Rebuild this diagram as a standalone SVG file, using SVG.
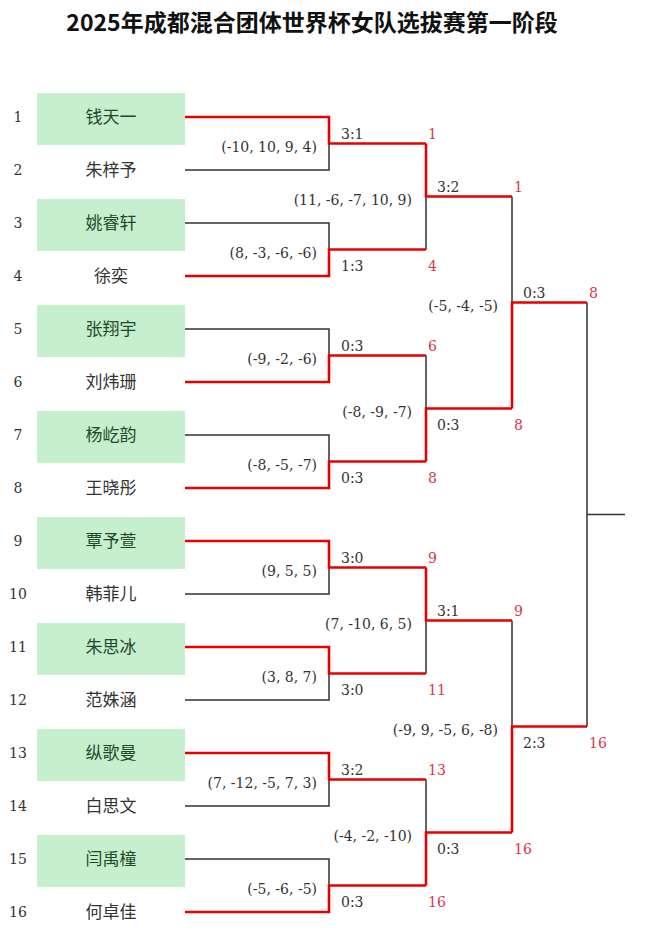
<svg xmlns="http://www.w3.org/2000/svg" width="650" height="945" viewBox="0 0 650 945">
<style>
.bg{fill:#ffffff}
.box{fill:#c6efce}
.title{font-family:"Noto Sans CJK SC","Noto Sans",sans-serif;font-weight:bold;font-size:23px;fill:#111;text-anchor:middle}
.num{font-family:"DejaVu Serif","Liberation Serif",serif;font-size:14px;fill:#333;text-anchor:middle}
.name{font-family:"Noto Sans CJK SC",sans-serif;font-size:17px;fill:#333;text-anchor:middle}
.gname{font-family:"Noto Sans CJK SC",sans-serif;font-size:17px;fill:#1f4a2a;text-anchor:middle}
.sc{font-family:"DejaVu Serif","Liberation Serif",serif;font-size:14px;fill:#333;text-anchor:end}
.res{font-family:"DejaVu Serif","Liberation Serif",serif;font-size:14px;fill:#333}
.win{font-family:"DejaVu Serif","Liberation Serif",serif;font-size:14px;fill:#d6374a}
.lb{fill:none;stroke:#333;stroke-width:1.5}
.lr{fill:none;stroke:#e60000;stroke-width:2.6;stroke-linejoin:miter}
</style>
<rect class="bg" x="0" y="0" width="650" height="945"/>
<text class="title" x="312" y="31">2025年成都混合团体世界杯女队选拔赛第一阶段</text>

<g id="p1"><rect class="box" x="37" y="93" width="148" height="52"/><text class="num" x="18" y="122">1</text><text class="gname" x="111" y="123">钱天一</text></g>
<g id="p2"><text class="num" x="18" y="175">2</text><text class="name" x="111" y="176">朱梓予</text></g>
<g id="p3"><rect class="box" x="37" y="199" width="148" height="52"/><text class="num" x="18" y="228">3</text><text class="gname" x="111" y="229">姚睿轩</text></g>
<g id="p4"><text class="num" x="18" y="281">4</text><text class="name" x="111" y="282">徐奕</text></g>
<g id="p5"><rect class="box" x="37" y="305" width="148" height="52"/><text class="num" x="18" y="334">5</text><text class="gname" x="111" y="335">张翔宇</text></g>
<g id="p6"><text class="num" x="18" y="387">6</text><text class="name" x="111" y="388">刘炜珊</text></g>
<g id="p7"><rect class="box" x="37" y="411" width="148" height="52"/><text class="num" x="18" y="440">7</text><text class="gname" x="111" y="441">杨屹韵</text></g>
<g id="p8"><text class="num" x="18" y="493">8</text><text class="name" x="111" y="494">王晓彤</text></g>
<g id="p9"><rect class="box" x="37" y="517" width="148" height="52"/><text class="num" x="18" y="546">9</text><text class="gname" x="111" y="547">覃予萱</text></g>
<g id="p10"><text class="num" x="18" y="599">10</text><text class="name" x="111" y="600">韩菲儿</text></g>
<g id="p11"><rect class="box" x="37" y="623" width="148" height="52"/><text class="num" x="18" y="652">11</text><text class="gname" x="111" y="653">朱思冰</text></g>
<g id="p12"><text class="num" x="18" y="705">12</text><text class="name" x="111" y="706">范姝涵</text></g>
<g id="p13"><rect class="box" x="37" y="729" width="148" height="52"/><text class="num" x="18" y="758">13</text><text class="gname" x="111" y="759">纵歌曼</text></g>
<g id="p14"><text class="num" x="18" y="811">14</text><text class="name" x="111" y="812">白思文</text></g>
<g id="p15"><rect class="box" x="37" y="835" width="148" height="52"/><text class="num" x="18" y="864">15</text><text class="gname" x="111" y="865">闫禹橦</text></g>
<g id="p16"><text class="num" x="18" y="917">16</text><text class="name" x="111" y="918">何卓佳</text></g>

<g id="connectors">
<path class="lb" d="M185,170H329V143.5 M185,223H329V249.5 M185,329H329V355.5 M185,435H329V461.5 M185,594H329V567.5 M185,700H329V673.5 M185,806H329V779.5 M185,859H329V885.5"/>
<path class="lb" d="M426,196.5V249.5 M426,355.5V408.5 M426,673.5V620.5 M426,779.5V832.5"/>
<path class="lb" d="M512,196.5V302.5 M512,620.5V726.5 M587,302.5V726.5 M587,514.5H625"/>
<path class="lr" d="M185,117H329V143.5H426 M185,276H329V249.5H426 M185,382H329V355.5H426 M185,488H329V461.5H426 M185,541H329V567.5H426 M185,647H329V673.5H426 M185,753H329V779.5H426 M185,912H329V885.5H426"/>
<path class="lr" d="M426,143.5V196.5H512 M426,461.5V408.5H512 M426,567.5V620.5H512 M426,885.5V832.5H512"/>
<path class="lr" d="M512,408.5V302.5H587 M512,832.5V726.5H587"/>
</g>

<g id="labels-r1">
<text class="sc" x="317" y="151.5">(-10, 10, 9, 4)</text>
<text class="sc" x="317" y="257.5">(8, -3, -6, -6)</text>
<text class="sc" x="317" y="363.5">(-9, -2, -6)</text>
<text class="sc" x="317" y="469.5">(-8, -5, -7)</text>
<text class="sc" x="317" y="575.5">(9, 5, 5)</text>
<text class="sc" x="317" y="681.5">(3, 8, 7)</text>
<text class="sc" x="317" y="787.5">(7, -12, -5, 7, 3)</text>
<text class="sc" x="317" y="893.5">(-5, -6, -5)</text>
<text class="res" x="341" y="138.5">3:1</text><text class="win" x="428" y="138.5">1</text>
<text class="res" x="341" y="270.5">1:3</text><text class="win" x="428" y="270.5">4</text>
<text class="res" x="341" y="350.5">0:3</text><text class="win" x="428" y="350.5">6</text>
<text class="res" x="341" y="482.5">0:3</text><text class="win" x="428" y="482.5">8</text>
<text class="res" x="341" y="562.5">3:0</text><text class="win" x="428" y="562.5">9</text>
<text class="res" x="341" y="694.5">3:0</text><text class="win" x="428" y="694.5">11</text>
<text class="res" x="341" y="774.5">3:2</text><text class="win" x="428" y="774.5">13</text>
<text class="res" x="341" y="906.5">0:3</text><text class="win" x="428" y="906.5">16</text>
</g>
<g id="labels-r2">
<text class="sc" x="412" y="204.5">(11, -6, -7, 10, 9)</text>
<text class="sc" x="412" y="416.5">(-8, -9, -7)</text>
<text class="sc" x="412" y="628.5">(7, -10, 6, 5)</text>
<text class="sc" x="412" y="840.5">(-4, -2, -10)</text>
<text class="res" x="437" y="191.5">3:2</text><text class="win" x="514" y="191.5">1</text>
<text class="res" x="437" y="429.5">0:3</text><text class="win" x="514" y="429.5">8</text>
<text class="res" x="437" y="615.5">3:1</text><text class="win" x="514" y="615.5">9</text>
<text class="res" x="437" y="853.5">0:3</text><text class="win" x="514" y="853.5">16</text>
</g>
<g id="labels-r3">
<text class="sc" x="498" y="310.5">(-5, -4, -5)</text>
<text class="sc" x="498" y="734.5">(-9, 9, -5, 6, -8)</text>
<text class="res" x="523" y="297.5">0:3</text><text class="win" x="589" y="297.5">8</text>
<text class="res" x="523" y="747.5">2:3</text><text class="win" x="589" y="747.5">16</text>
</g>
</svg>
